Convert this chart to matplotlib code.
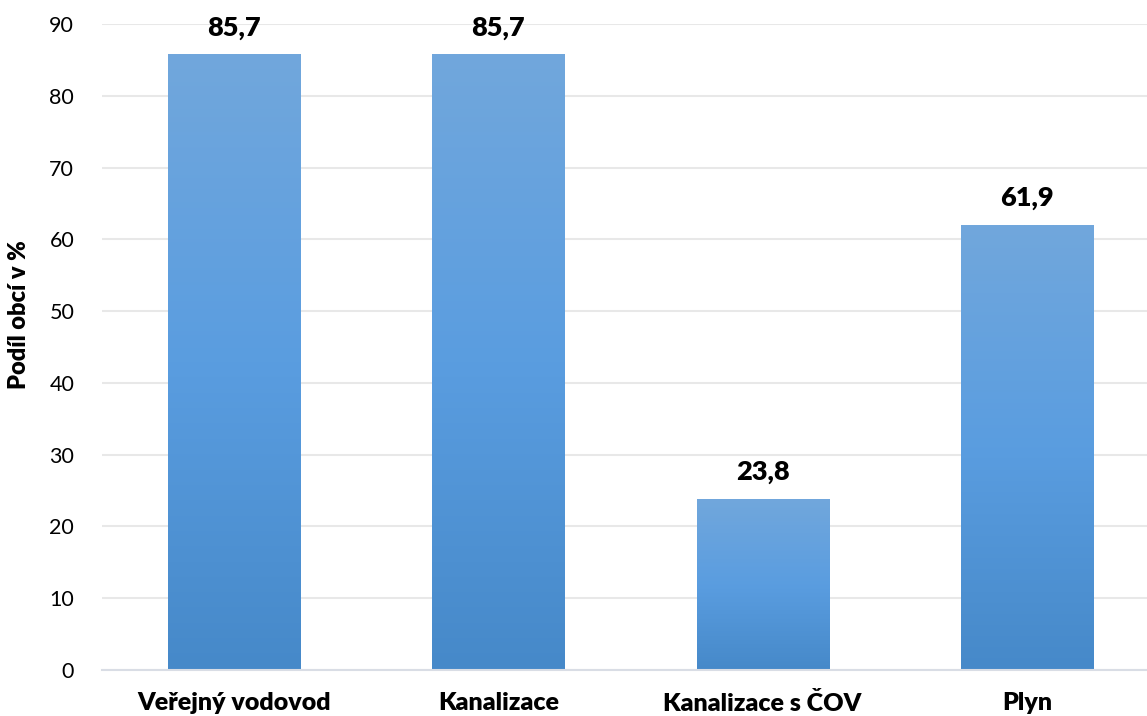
import numpy as np
import matplotlib.pyplot as plt
from matplotlib.colors import LinearSegmentedColormap

categories = ['Veřejný vodovod', 'Kanalizace', 'Kanalizace s ČOV', 'Plyn']
values = [85.7, 85.7, 23.8, 61.9]
value_labels = ['85,7', '85,7', '23,8', '61,9']

plt.rcParams['font.family'] = ['Lato', 'DejaVu Sans']

W, H = 1147, 716
fig = plt.figure(figsize=(W / 100, H / 100), dpi=100)
ax = fig.add_axes([102 / W, 46 / H, (W - 102) / W, (670 - 24) / H])

# bar gradient: light at top, darker at bottom
grad = LinearSegmentedColormap.from_list('bar', ['#4689c9', '#5a9de0', '#71a7dc'])
bar_w = 0.5
for i, v in enumerate(values):
    g = np.linspace(0, 1, 256).reshape(-1, 1)
    ax.imshow(g, cmap=grad, origin='lower', aspect='auto',
              extent=(i - bar_w / 2, i + bar_w / 2, 0, v), zorder=2)
    ax.annotate(value_labels[i], (i, v), xytext=(0, 11), textcoords='offset points',
                ha='center', va='bottom', fontsize=19.5, fontweight='heavy', color='black')

ax.set_xlim(-0.5, 3.5 - 12 / 264)
ax.set_ylim(0, 90)
ax.set_yticks(range(0, 91, 10))
ax.set_xticks(range(len(categories)))
ax.set_xticklabels(categories, fontsize=18, fontweight='heavy')
ax.tick_params(axis='y', labelsize=15.5, length=0, pad=20)
ax.tick_params(axis='x', length=0, pad=16)
ax.grid(axis='y', color='#e8e8e8', linewidth=1.5, zorder=0)
ax.set_axisbelow(True)
for s in ['top', 'right', 'left']:
    ax.spines[s].set_visible(False)
ax.spines['bottom'].set_color('#d9dde5')
ax.spines['bottom'].set_linewidth(1.5)

fig.text(19 / W, 1 - 315 / H, 'Podíl obcí v %', rotation=90, ha='center', va='center',
         fontsize=17, fontweight='heavy')

fig.savefig('out.png', dpi=100)
